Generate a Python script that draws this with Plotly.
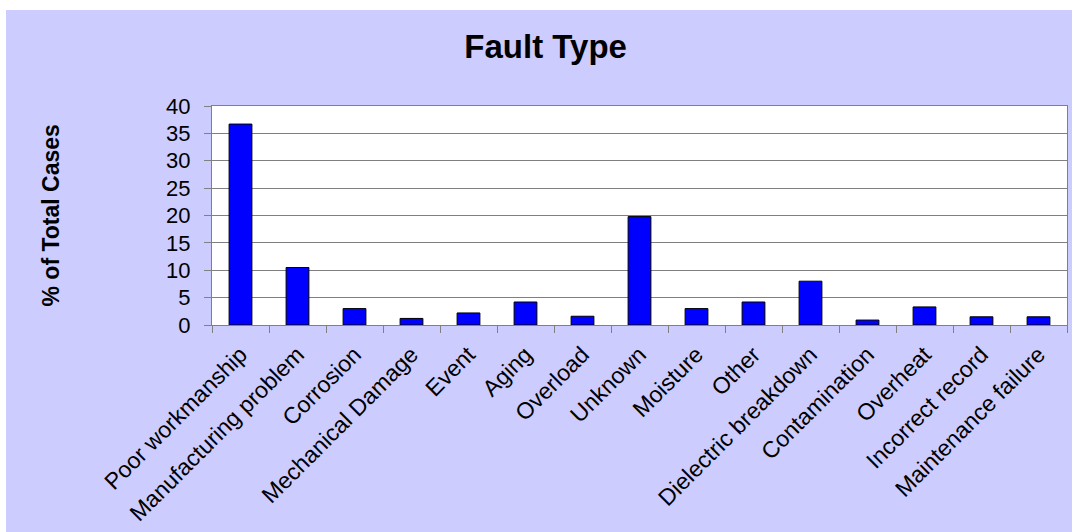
import plotly.graph_objects as go

categories = ["Poor workmanship", "Manufacturing problem", "Corrosion", "Mechanical Damage",
              "Event", "Aging", "Overload", "Unknown", "Moisture", "Other",
              "Dielectric breakdown", "Contamination", "Overheat", "Incorrect record",
              "Maintenance failure"]
values = [36.7, 10.5, 3.0, 1.2, 2.2, 4.2, 1.6, 19.8, 3.0, 4.2, 8.0, 0.9, 3.3, 1.5, 1.5]
y_ticks = [0, 5, 10, 15, 20, 25, 30, 35, 40]

W, H = 1072, 532
L, R, T, B = 212, 5, 106, 207
pw, ph = W - L - R, H - T - B

fig = go.Figure(go.Bar(
    x=categories, y=values, width=0.4,
    marker=dict(color="#0000FF", line=dict(color="#000000", width=1)),
))

font = "Liberation Sans, Arial, sans-serif"
fig.update_layout(
    width=W, height=H,
    margin=dict(l=L, r=R, t=T, b=B),
    paper_bgcolor="#CCCCFF", plot_bgcolor="#FFFFFF",
    font=dict(family=font, color="#000000"),
    showlegend=False,
    title=dict(text="<b>Fault Type</b>", font=dict(size=33, family=font, color="#000000"),
               xref="container", yref="container", x=0.509, y=1 - 46 / H,
               xanchor="center", yanchor="middle"),
    bargap=0.6,
)
fig.update_yaxes(range=[0, 40], tickvals=y_ticks, ticks="outside", ticklen=7,
                 tickcolor="#808080", showline=True, linecolor="#808080", linewidth=1,
                 mirror=True, showgrid=True, gridcolor="#808080", gridwidth=1,
                 zeroline=False, tickfont=dict(size=22, family=font, color="#000000"),
                 ticklabelstandoff=9, automargin=False, fixedrange=True)
fig.update_xaxes(tickangle=-45, ticks="outside", ticklen=7, tickcolor="#808080",
                 tickson="boundaries", showline=True, linecolor="#808080", linewidth=1,
                 mirror=True, showgrid=False, ticklabelstandoff=6, automargin=False,
                 tickfont=dict(size=23, family=font, color="#000000"), fixedrange=True)

fig.add_annotation(text="<b>% of Total Cases</b>", textangle=-90, showarrow=False,
                   xref="paper", yref="paper", x=(50 - L) / pw, y=0.5,
                   xanchor="center", yanchor="middle",
                   font=dict(size=23, family=font, color="#000000"))

# white strips at the top and left edge of the page
fig.add_shape(type="rect", xref="paper", yref="paper", layer="below",
              x0=-L / pw, x1=(W - L) / pw, y0=1 + (T - 10) / ph, y1=1 + T / ph,
              fillcolor="#FFFFFF", line=dict(width=0))
fig.add_shape(type="rect", xref="paper", yref="paper", layer="below",
              x0=-L / pw, x1=(6 - L) / pw, y0=-B / ph, y1=1 + T / ph,
              fillcolor="#FFFFFF", line=dict(width=0))

fig.write_html("out.html")
